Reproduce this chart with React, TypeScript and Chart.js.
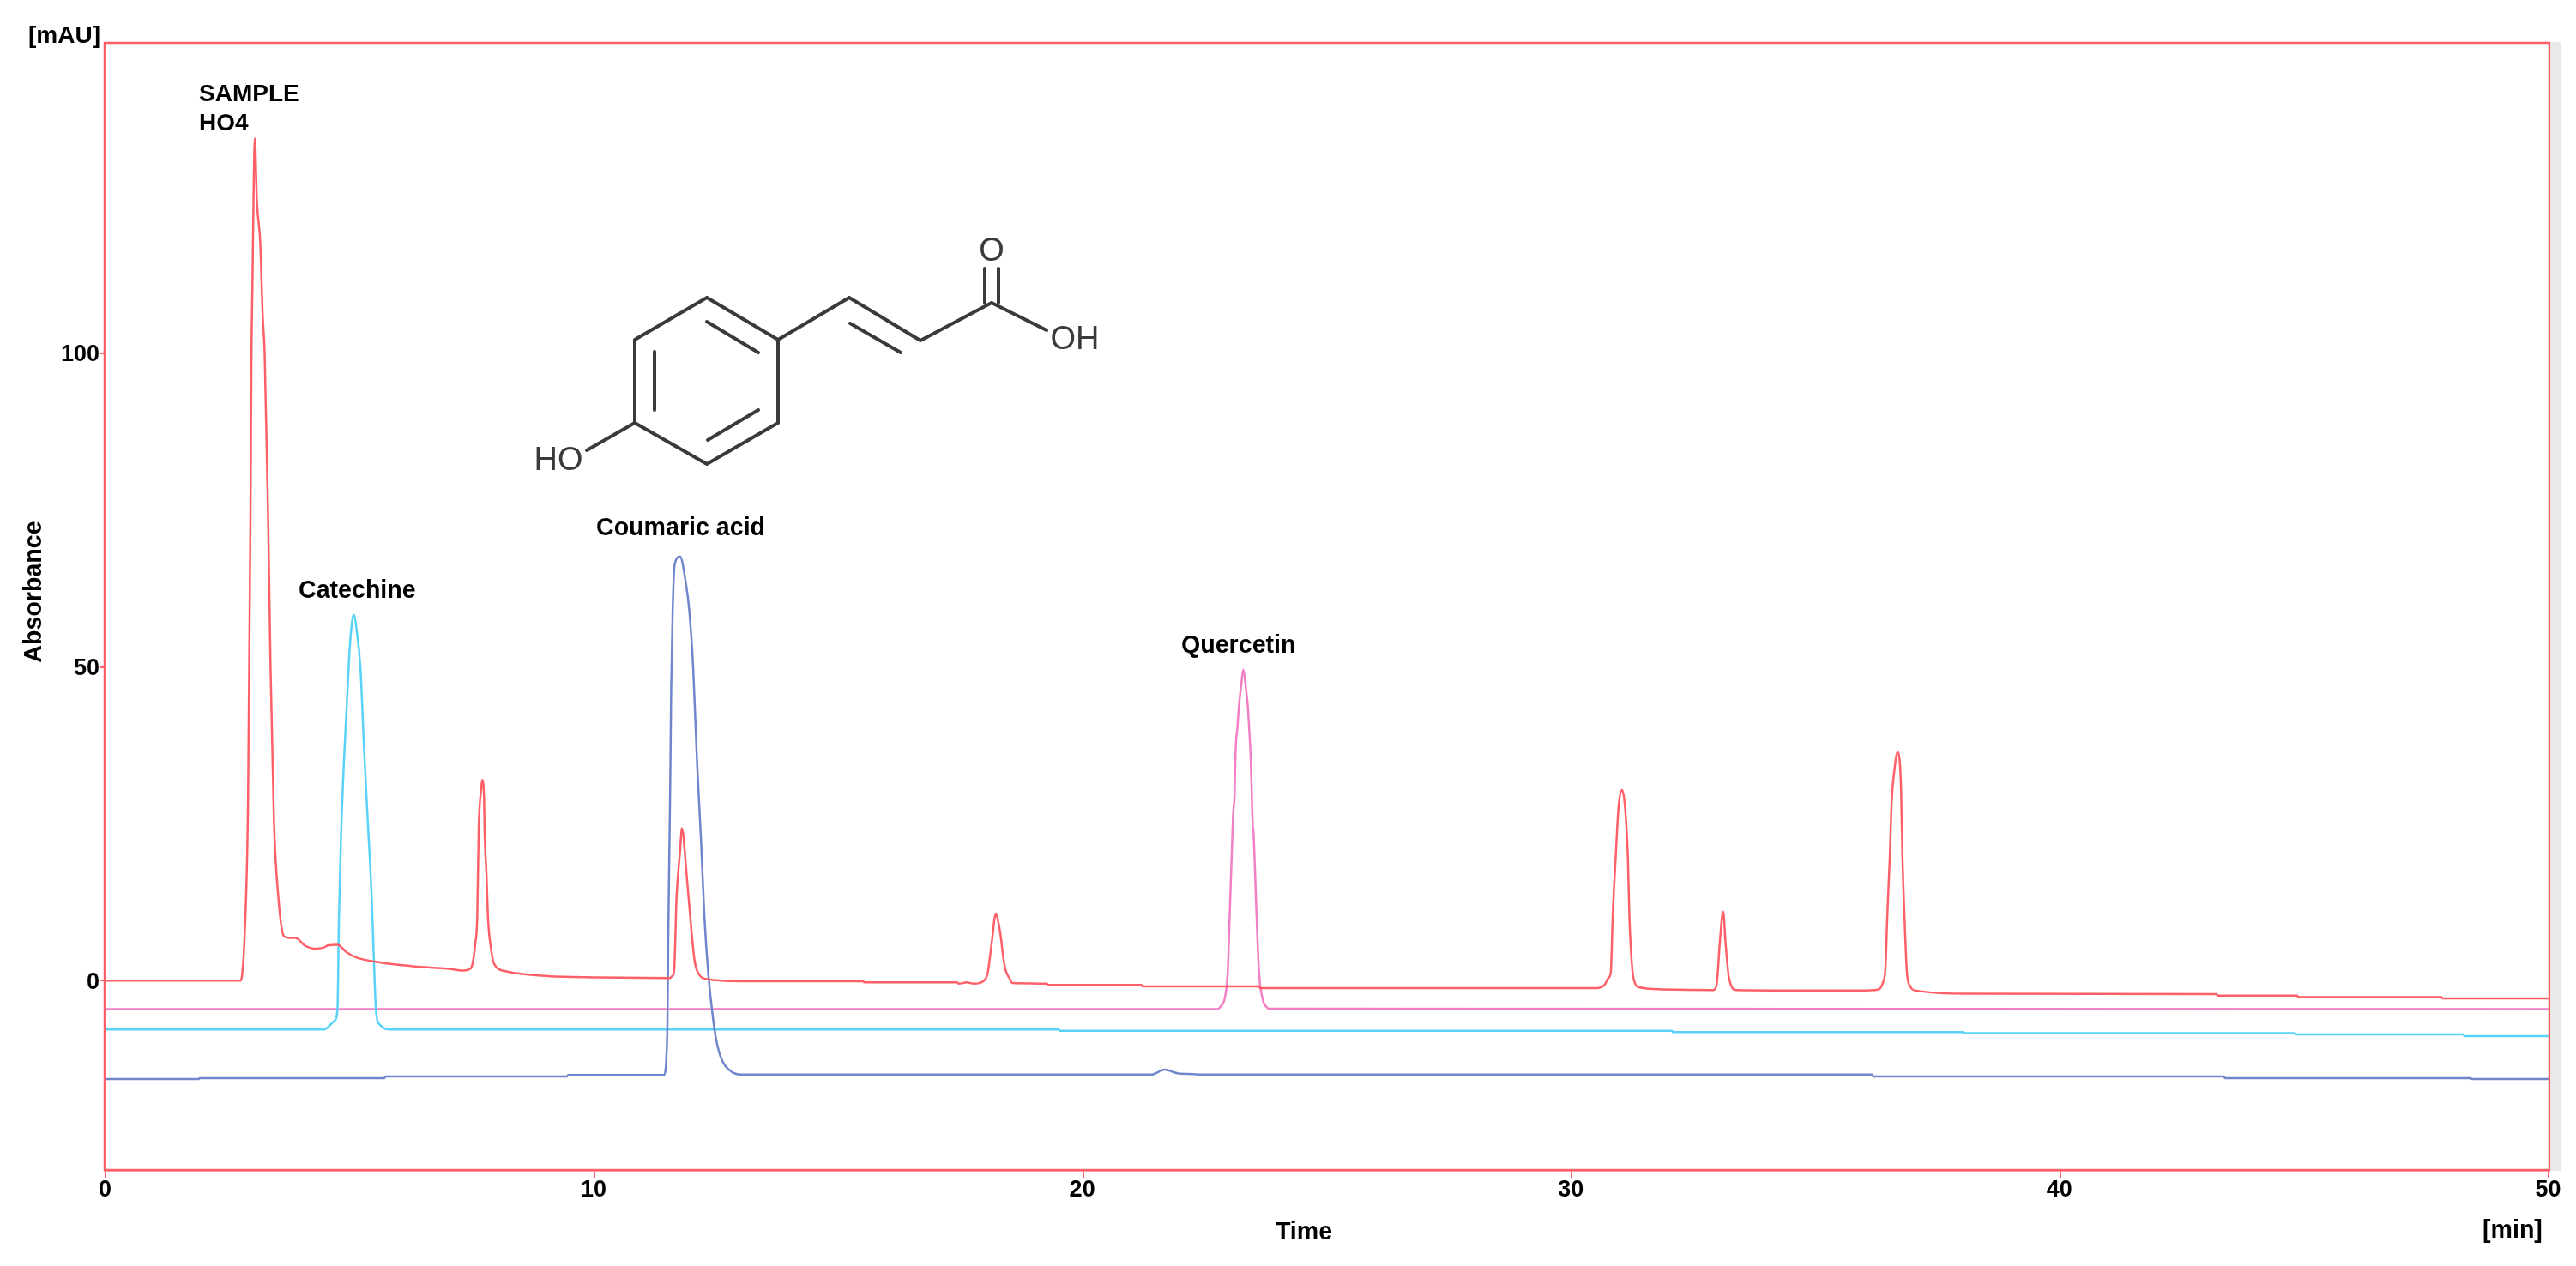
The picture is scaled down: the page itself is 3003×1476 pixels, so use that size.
import React, { useEffect, useRef } from "react";
import { Chart, registerables } from "chart.js";

Chart.register(...registerables);

// ---- data (time in min, absorbance in mAU) ----
const sampleTime = [0, 2.7, 2.76, 2.79, 2.84, 2.91, 2.96, 2.98, 3.0, 3.03, 3.05, 3.09, 3.16, 3.21, 3.25, 3.32, 3.37, 3.44, 3.53, 3.64, 3.75, 3.88, 4.07, 4.26, 4.44, 4.54, 4.74, 4.93, 5.12, 5.44, 6.39, 6.98, 7.32, 7.46, 7.51, 7.56, 7.6, 7.63, 7.68, 7.7, 7.74, 7.75, 7.79, 7.82, 7.88, 7.95, 8.18, 9.04, 10.05, 11.54, 11.6, 11.63, 11.68, 11.75, 11.79, 11.82, 11.86, 11.98, 12.05, 12.11, 12.33, 13.12, 15.5, 15.52, 17.43, 17.45, 17.62, 17.77, 17.98, 18.05, 18.1, 18.15, 18.19, 18.22, 18.26, 18.31, 18.36, 18.41, 18.49, 18.56, 19.26, 19.28, 21.2, 21.22, 23.6, 23.62, 30.51, 30.68, 30.75, 30.8, 30.84, 30.9, 30.96, 31.03, 31.09, 31.15, 31.18, 31.24, 31.3, 31.35, 31.86, 32.9, 32.97, 33.03, 33.1, 33.15, 33.22, 33.37, 35.87, 36.28, 36.37, 36.42, 36.46, 36.51, 36.55, 36.6, 36.67, 36.74, 36.77, 36.81, 36.86, 36.92, 37.05, 38.1, 43.2, 43.22, 44.85, 44.87, 47.8, 47.82, 50.05];
const sampleValue = [0, 0, 0, 1, 7.1, 28.5, 74.3, 100, 110.8, 129, 134.3, 124.5, 117.6, 106, 100, 74.3, 50, 25.4, 13.3, 7.1, 6.8, 6.8, 5.6, 5.1, 5.2, 5.6, 5.7, 4.5, 3.7, 3.1, 2.2, 1.9, 1.6, 1.9, 2.9, 5.9, 10.1, 24.2, 30.5, 32, 29, 24.2, 16.8, 10.1, 5.2, 2.6, 1.5, 0.7, 0.5, 0.4, 0.8, 1.6, 13.3, 20.5, 24.3, 23, 19.3, 8.3, 3.1, 1.4, 0.2, -0.1, -0.1, -0.27, -0.27, -0.5, -0.3, -0.5, 0.05, 1.3, 4.1, 7.3, 10, 10.6, 9.5, 7.3, 4.1, 1.8, 0.4, -0.4, -0.5, -0.7, -0.7, -0.95, -0.95, -1.2, -1.2, -0.6, 0.4, 1.3, 10.4, 19.6, 27.8, 30.4, 27.8, 19.6, 10.4, 1.8, -0.5, -1, -1.4, -1.5, -0.5, 5.9, 11, 5.9, 0.4, -1.5, -1.6, -1.4, -0.3, 1.8, 10.4, 19.6, 28.7, 33.2, 36.4, 30.9, 19.6, 10.4, 1.4, -0.8, -1.6, -2.1, -2.15, -2.4, -2.4, -2.65, -2.65, -2.85, -2.85];

const quercetinTime = [0, 22.74, 22.84, 22.9, 22.96, 23.0, 23.04, 23.07, 23.1, 23.12, 23.16, 23.19, 23.23, 23.28, 23.33, 23.37, 23.4, 23.43, 23.45, 23.47, 23.49, 23.55, 23.6, 23.67, 23.75, 23.82, 50.05];
const quercetinValue = [-4.56, -4.56, -3.9, -2.8, 1.3, 10.4, 19.6, 26.4, 29.6, 36.4, 40.5, 43.8, 46.7, 49.6, 46.7, 43.8, 40, 35.6, 30.5, 25, 23.2, 10.4, 1.3, -2.8, -4.2, -4.5, -4.56];

const catechineTime = [0, 4.46, 4.68, 4.74, 4.77, 4.81, 4.87, 4.93, 4.99, 5.05, 5.08, 5.12, 5.21, 5.28, 5.36, 5.44, 5.49, 5.53, 5.6, 5.83, 19.5, 19.52, 32.05, 32.07, 38.0, 38.02, 44.8, 44.82, 48.25, 48.27, 50.05];
const catechineValue = [-7.8, -7.8, -6.4, -4.6, 10.1, 22.4, 34.6, 43.8, 52.9, 57.8, 58.3, 56.6, 49.8, 37.6, 25.4, 13.3, 2.2, -5, -7, -7.8, -7.8, -8.0, -8.0, -8.2, -8.2, -8.4, -8.4, -8.6, -8.6, -8.85, -8.85];

const coumaricTime = [0, 1.9, 1.92, 5.7, 5.72, 9.44, 9.46, 11.42, 11.49, 11.51, 11.53, 11.55, 11.57, 11.6, 11.64, 11.75, 11.86, 11.94, 12.02, 12.1, 12.18, 12.25, 12.33, 12.41, 12.49, 12.61, 12.8, 13.03, 21.4, 21.67, 21.95, 22.35, 22.37, 36.15, 36.17, 43.35, 43.37, 48.4, 48.42, 50.05];
const coumaricValue = [-15.7, -15.7, -15.55, -15.55, -15.3, -15.3, -15.05, -15.05, -8.2, 7.1, 19.3, 31.5, 46.8, 59, 66.3, 67.6, 63.9, 59, 49.8, 34.6, 22.4, 10.1, 1, -5, -9.4, -12.7, -14.5, -15, -15, -14.2, -14.8, -14.95, -15, -15, -15.3, -15.3, -15.55, -15.55, -15.7, -15.7];

const xTickValues = [0, 10, 20, 30, 40, 50];
const yTickValues = [0, 50, 100];
const seriesNames = ["Quercetin", "Catechine", "Coumaric acid", "SAMPLE HO4"];
const xAxisTitle = "Time";
const xAxisUnit = "[min]";
const yAxisTitle = "Absorbance";
const yAxisUnit = "[mAU]";
const sampleLabelLines = ["SAMPLE", "HO4"];
const peakLabels = ["Catechine", "Coumaric acid", "Quercetin"];

// ---- style / layout ----
const FONT = '"Liberation Sans", Arial, sans-serif';
const BORDER = "#ff6068";
const INK = "#000000";
const STRUCT = "#3a3a3a";

const zip = (xs: number[], ys: number[]) => xs.map((x, i) => ({ x, y: ys[i] }));

type Seg = [number, number, number, number];
const bonds: Seg[] = [
  [824, 347, 907, 396], [907, 396, 907, 493], [907, 493, 824, 541],
  [824, 541, 740, 493], [740, 493, 740, 396], [740, 396, 824, 347],
  [824, 375, 884, 411], [763, 410, 763, 478], [825, 513, 884, 478],
  [907, 396, 990, 347], [990, 347, 1073, 397], [991, 377, 1050, 411],
  [1073, 397, 1156, 353], [1148, 313, 1148, 353], [1164, 313, 1164, 353],
  [1156, 353, 1220, 385], [740, 493, 684, 525],
];

const annotate = {
  id: "annotate",
  afterDraw(chart: any) {
    const { ctx, chartArea: a } = chart;
    ctx.save();
    // frame
    ctx.strokeStyle = BORDER;
    ctx.lineWidth = 2.5;
    ctx.strokeRect(a.left, a.top, a.right - a.left, a.bottom - a.top);
    // strip on the right of the plot
    ctx.fillStyle = "#e8e9ea";
    ctx.fillRect(a.right + 1.5, a.top - 1, 12, a.bottom - a.top + 2);

    // labels
    ctx.fillStyle = INK;
    ctx.textBaseline = "middle";
    ctx.textAlign = "left";
    ctx.font = `bold 28px ${FONT}`;
    ctx.fillText(yAxisUnit, 33, 42);
    ctx.fillText(sampleLabelLines[0], 232, 110);
    ctx.fillText(sampleLabelLines[1], 232, 144);
    ctx.font = `bold 28.6px ${FONT}`;
    ctx.fillText(peakLabels[0], 348, 689);
    ctx.fillText(peakLabels[1], 695, 616);
    ctx.fillText(peakLabels[2], 1377, 753);
    ctx.fillText(xAxisUnit, 2894, 1435);
    ctx.textAlign = "center";
    ctx.fillText(xAxisTitle, 1520, 1437);
    ctx.save();
    ctx.translate(40, 690);
    ctx.rotate(-Math.PI / 2);
    ctx.fillText(yAxisTitle, 0, 0);
    ctx.restore();

    // structure of coumaric acid
    ctx.strokeStyle = STRUCT;
    ctx.lineWidth = 4;
    ctx.lineCap = "round";
    ctx.beginPath();
    for (const [x1, y1, x2, y2] of bonds) {
      ctx.moveTo(x1, y1);
      ctx.lineTo(x2, y2);
    }
    ctx.stroke();
    ctx.fillStyle = STRUCT;
    ctx.font = `38px ${FONT}`;
    ctx.fillText("O", 1156, 294);
    ctx.fillText("OH", 1253, 397);
    ctx.fillText("HO", 651, 538);
    ctx.restore();
  },
};

export default function App() {
  const ref = useRef<HTMLCanvasElement>(null);
  useEffect(() => {
    const common = { pointRadius: 0, borderWidth: 2.5, cubicInterpolationMode: "monotone", fill: false };
    const chart = new Chart(ref.current as HTMLCanvasElement, {
      type: "line",
      data: {
        datasets: [
          { label: seriesNames[0], data: zip(quercetinTime, quercetinValue), borderColor: "#f27fc4", ...common, order: 3 },
          { label: seriesNames[1], data: zip(catechineTime, catechineValue), borderColor: "#58d2f6", ...common, order: 2 },
          { label: seriesNames[2], data: zip(coumaricTime, coumaricValue), borderColor: "#7086cc", ...common, order: 1 },
          { label: seriesNames[3], data: zip(sampleTime, sampleValue), borderColor: "#ff6068", ...common, order: 0 },
        ],
      } as any,
      options: {
        responsive: false,
        animation: false,
        devicePixelRatio: 1,
        layout: { padding: { top: 50, right: 31, left: 0, bottom: 0 } },
        plugins: { legend: { display: false }, tooltip: { enabled: false } },
        scales: {
          x: {
            type: "linear",
            min: -0.025,
            max: 50.01,
            afterBuildTicks: (s: any) => { s.ticks = xTickValues.map((value) => ({ value })); },
            afterFit: (s: any) => { s.height = 112; },
            ticks: {
              color: INK,
              font: { family: FONT, size: 27, weight: "bold" },
              autoSkip: false,
              maxRotation: 0,
              padding: -2,
              labelOffset: -1,
            },
            grid: { drawOnChartArea: false, drawTicks: true, tickLength: 9, color: BORDER, lineWidth: 2 },
            border: { display: true, color: BORDER, width: 2.5 },
          },
          y: {
            type: "linear",
            min: -30.2,
            max: 149.5,
            afterBuildTicks: (s: any) => { s.ticks = yTickValues.map((value) => ({ value })); },
            afterFit: (s: any) => { s.width = 122; },
            ticks: {
              color: INK,
              font: { family: FONT, size: 27, weight: "bold" },
              padding: 0,
              labelOffset: 2,
            },
            grid: { drawOnChartArea: false, drawTicks: true, tickLength: 6, color: BORDER, lineWidth: 2 },
            border: { display: true, color: BORDER, width: 2.5 },
          },
        },
      } as any,
      plugins: [annotate],
    });
    return () => chart.destroy();
  }, []);
  return (
    <canvas
      ref={ref}
      width={3003}
      height={1476}
      style={{ position: "absolute", left: 0, top: 0, width: 3003, height: 1476, display: "block", background: "#fff" }}
    />
  );
}
